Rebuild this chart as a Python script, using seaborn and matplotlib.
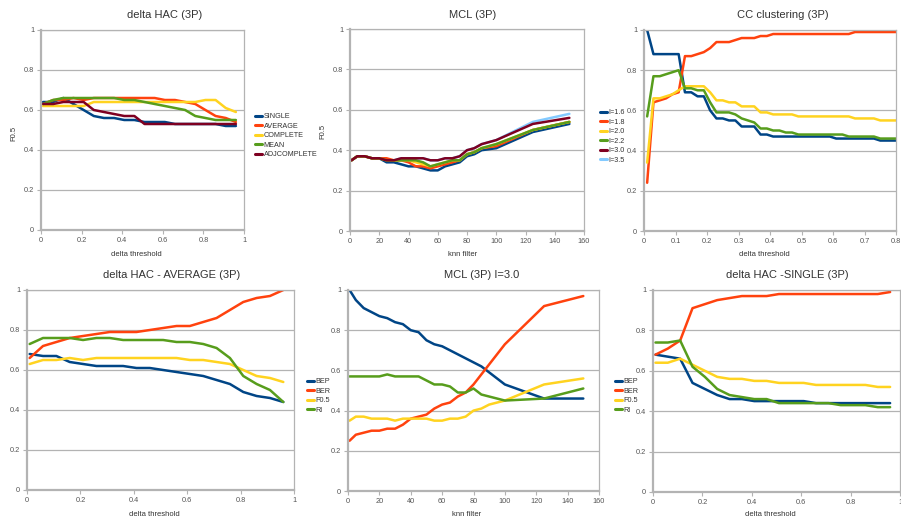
import matplotlib
matplotlib.use("Agg")
import matplotlib.pyplot as plt
import seaborn as sns
from matplotlib.ticker import FuncFormatter

# ---- data ----
hac_x = [0.01, 0.06, 0.11, 0.16, 0.21, 0.26, 0.31, 0.36, 0.41, 0.46,
         0.51, 0.56, 0.61, 0.66, 0.71, 0.76, 0.81, 0.86, 0.91, 0.96]

hac_single = [0.64, 0.64, 0.66, 0.63, 0.60, 0.57, 0.56, 0.56, 0.55, 0.55,
              0.54, 0.54, 0.54, 0.53, 0.53, 0.53, 0.53, 0.53, 0.52, 0.52]
hac_average = [0.63, 0.65, 0.65, 0.66, 0.65, 0.66, 0.66, 0.66, 0.66, 0.66,
               0.66, 0.66, 0.65, 0.65, 0.64, 0.63, 0.60, 0.57, 0.56, 0.54]
hac_complete = [0.62, 0.62, 0.62, 0.62, 0.62, 0.64, 0.64, 0.64, 0.64, 0.64,
                0.64, 0.64, 0.64, 0.64, 0.64, 0.64, 0.65, 0.65, 0.61, 0.59]
hac_mean = [0.63, 0.65, 0.66, 0.66, 0.66, 0.66, 0.66, 0.66, 0.65, 0.65,
            0.64, 0.63, 0.62, 0.61, 0.60, 0.57, 0.56, 0.55, 0.55, 0.55]
hac_adjcomplete = [0.63, 0.63, 0.64, 0.64, 0.64, 0.60, 0.59, 0.58, 0.57, 0.57,
                   0.53, 0.53, 0.53, 0.53, 0.53, 0.53, 0.53, 0.53, 0.53, 0.53]

knn = [1, 5, 10, 15, 20, 25, 30, 35, 40, 45, 50, 55, 60, 65, 70, 75, 80,
       85, 90, 95, 100, 125, 150]

mcl_16 = [0.35, 0.37, 0.37, 0.36, 0.36, 0.34, 0.34, 0.33, 0.32, 0.32, 0.31, 0.30,
          0.30, 0.32, 0.33, 0.34, 0.37, 0.38, 0.40, 0.405, 0.41, 0.49, 0.53]
mcl_18 = [0.35, 0.37, 0.37, 0.36, 0.36, 0.36, 0.35, 0.35, 0.34, 0.32, 0.32, 0.31,
          0.32, 0.33, 0.34, 0.35, 0.38, 0.39, 0.41, 0.415, 0.42, 0.50, 0.54]
mcl_20 = [0.35, 0.37, 0.37, 0.36, 0.36, 0.35, 0.35, 0.35, 0.35, 0.34, 0.33, 0.32,
          0.33, 0.34, 0.35, 0.35, 0.38, 0.39, 0.41, 0.42, 0.43, 0.50, 0.54]
mcl_22 = [0.35, 0.37, 0.37, 0.36, 0.36, 0.35, 0.35, 0.35, 0.35, 0.35, 0.34, 0.32,
          0.33, 0.34, 0.35, 0.35, 0.38, 0.39, 0.41, 0.42, 0.43, 0.50, 0.54]
mcl_30 = [0.35, 0.37, 0.37, 0.36, 0.36, 0.35, 0.35, 0.36, 0.36, 0.36, 0.36, 0.35,
          0.35, 0.36, 0.36, 0.37, 0.40, 0.41, 0.43, 0.44, 0.45, 0.53, 0.56]
mcl_35 = [0.35, 0.37, 0.37, 0.36, 0.36, 0.35, 0.35, 0.36, 0.36, 0.36, 0.36, 0.35,
          0.35, 0.36, 0.36, 0.37, 0.40, 0.41, 0.43, 0.44, 0.45, 0.54, 0.58]

cc_x = [0.01, 0.03, 0.05, 0.07, 0.09, 0.11, 0.13, 0.15, 0.17, 0.19, 0.21,
        0.23, 0.25, 0.27, 0.29, 0.31, 0.33, 0.35, 0.37, 0.39, 0.41, 0.43,
        0.45, 0.47, 0.49, 0.51, 0.53, 0.55, 0.57, 0.59, 0.61, 0.63, 0.65,
        0.67, 0.69, 0.71, 0.73, 0.75, 0.77, 0.79, 0.81]
cc_16 = [1.0, 0.88, 0.88, 0.88, 0.88, 0.88, 0.69, 0.69, 0.67, 0.67, 0.60,
         0.56, 0.56, 0.55, 0.55, 0.52, 0.52, 0.52, 0.48, 0.48, 0.47, 0.47,
         0.47, 0.47, 0.47, 0.47, 0.47, 0.47, 0.47, 0.47, 0.46, 0.46, 0.46,
         0.46, 0.46, 0.46, 0.46, 0.45, 0.45, 0.45, 0.45]
cc_18 = [0.24, 0.64, 0.65, 0.66, 0.68, 0.69, 0.87, 0.87, 0.88, 0.89, 0.91,
         0.94, 0.94, 0.94, 0.95, 0.96, 0.96, 0.96, 0.97, 0.97, 0.98, 0.98,
         0.98, 0.98, 0.98, 0.98, 0.98, 0.98, 0.98, 0.98, 0.98, 0.98, 0.98,
         0.99, 0.99, 0.99, 0.99, 0.99, 0.99, 0.99, 0.99]
cc_20 = [0.34, 0.66, 0.66, 0.67, 0.68, 0.70, 0.72, 0.72, 0.72, 0.72, 0.69,
         0.65, 0.65, 0.64, 0.64, 0.62, 0.62, 0.62, 0.59, 0.59, 0.58, 0.58,
         0.58, 0.58, 0.57, 0.57, 0.57, 0.57, 0.57, 0.57, 0.57, 0.57, 0.57,
         0.56, 0.56, 0.56, 0.56, 0.55, 0.55, 0.55, 0.55]
cc_22 = [0.57, 0.77, 0.77, 0.78, 0.79, 0.80, 0.71, 0.71, 0.70, 0.70, 0.64,
         0.59, 0.59, 0.59, 0.58, 0.56, 0.55, 0.54, 0.51, 0.51, 0.50, 0.50,
         0.49, 0.49, 0.48, 0.48, 0.48, 0.48, 0.48, 0.48, 0.48, 0.48, 0.47,
         0.47, 0.47, 0.47, 0.47, 0.46, 0.46, 0.46, 0.46]

avg_bep = [0.68, 0.67, 0.67, 0.64, 0.63, 0.62, 0.62, 0.62, 0.61, 0.61,
           0.60, 0.59, 0.58, 0.57, 0.55, 0.53, 0.49, 0.47, 0.46, 0.44]
avg_ber = [0.66, 0.72, 0.74, 0.76, 0.77, 0.78, 0.79, 0.79, 0.79, 0.80,
           0.81, 0.82, 0.82, 0.84, 0.86, 0.90, 0.94, 0.96, 0.97, 1.00]
avg_f05 = [0.63, 0.65, 0.65, 0.66, 0.65, 0.66, 0.66, 0.66, 0.66, 0.66,
           0.66, 0.66, 0.65, 0.65, 0.64, 0.63, 0.60, 0.57, 0.56, 0.54]
avg_ri = [0.73, 0.76, 0.76, 0.76, 0.75, 0.76, 0.76, 0.75, 0.75, 0.75,
          0.75, 0.74, 0.74, 0.73, 0.71, 0.66, 0.57, 0.53, 0.50, 0.44]

mcl3_bep = [1.0, 0.95, 0.91, 0.89, 0.87, 0.86, 0.84, 0.83, 0.80, 0.79, 0.75, 0.73,
            0.72, 0.70, 0.68, 0.66, 0.64, 0.62, 0.59, 0.56, 0.53, 0.46, 0.46]
mcl3_ber = [0.25, 0.28, 0.29, 0.30, 0.30, 0.31, 0.31, 0.33, 0.36, 0.37, 0.38, 0.41,
            0.43, 0.44, 0.47, 0.49, 0.53, 0.58, 0.63, 0.68, 0.73, 0.92, 0.97]
mcl3_f05 = [0.35, 0.37, 0.37, 0.36, 0.36, 0.36, 0.35, 0.36, 0.36, 0.36, 0.36, 0.35,
            0.35, 0.36, 0.36, 0.37, 0.40, 0.41, 0.43, 0.44, 0.45, 0.53, 0.56]
mcl3_ri = [0.57, 0.57, 0.57, 0.57, 0.57, 0.58, 0.57, 0.57, 0.57, 0.57, 0.55, 0.53,
           0.53, 0.52, 0.49, 0.49, 0.51, 0.48, 0.47, 0.46, 0.45, 0.46, 0.51]

sgl_bep = [0.68, 0.67, 0.66, 0.54, 0.51, 0.48, 0.46, 0.46, 0.45, 0.45,
           0.45, 0.45, 0.45, 0.44, 0.44, 0.44, 0.44, 0.44, 0.44, 0.44]
sgl_ber = [0.68, 0.71, 0.75, 0.91, 0.93, 0.95, 0.96, 0.97, 0.97, 0.97,
           0.98, 0.98, 0.98, 0.98, 0.98, 0.98, 0.98, 0.98, 0.98, 0.99]
sgl_f05 = [0.64, 0.64, 0.66, 0.63, 0.60, 0.57, 0.56, 0.56, 0.55, 0.55,
           0.54, 0.54, 0.54, 0.53, 0.53, 0.53, 0.53, 0.53, 0.52, 0.52]
sgl_ri = [0.74, 0.74, 0.75, 0.62, 0.57, 0.51, 0.48, 0.47, 0.46, 0.46,
          0.44, 0.44, 0.44, 0.44, 0.44, 0.43, 0.43, 0.43, 0.42, 0.42]

colors = ['#004586', '#ff420e', '#ffd320', '#579d1c', '#7e0021', '#83caff']
metric_labels = ['BEP', 'BER', 'F0.5', 'RI']

# ---- style ----
sns.set_theme(style="white")
plt.rcParams['font.family'] = ['Liberation Sans', 'DejaVu Sans']

W, H = 901, 518
fig = plt.figure(figsize=(W / 100, H / 100), dpi=100)
GRAY = '#b3b3b3'


def make_axes(l, r, t, b, xmax, xstep):
    ax = fig.add_axes([l / W, 1 - b / H, (r - l) / W, (b - t) / H])
    ax.set_xlim(0, xmax)
    ax.set_ylim(0, 1)
    n = int(round(xmax / xstep))
    ax.set_xticks([i * xstep for i in range(n + 1)])
    ax.set_yticks([0, 0.2, 0.4, 0.6, 0.8, 1.0])
    fmt = FuncFormatter(lambda v, p: f"{v:g}")
    ax.xaxis.set_major_formatter(fmt)
    ax.yaxis.set_major_formatter(fmt)
    ax.yaxis.grid(True, color=GRAY, lw=0.9)
    ax.set_axisbelow(True)
    for s in ax.spines.values():
        s.set_color(GRAY)
        s.set_linewidth(0.9)
    ax.spines['left'].set_linewidth(1.6)
    ax.spines['bottom'].set_linewidth(1.6)
    ax.tick_params(axis='both', length=3, width=0.8, color=GRAY,
                   labelsize=5.3, labelcolor='#555555', pad=2,
                   left=True, bottom=True)
    ax.set_xlabel('')
    ax.set_ylabel('')
    return ax


def draw(ax, x, series, labels, cols):
    for y, lab, c in zip(series, labels, cols):
        sns.lineplot(x=x, y=y, ax=ax, color=c, lw=1.8, label=lab, legend=False)


def legend(ax, x, y, order=None):
    h, l = ax.get_legend_handles_labels()
    if order is not None:
        h = [h[i] for i in order]
        l = [l[i] for i in order]
    leg = fig.legend(h, l, loc='upper left', bbox_to_anchor=(x / W, 1 - y / H),
                     frameon=False, fontsize=5.2, handlelength=1.0,
                     handletextpad=0.2, labelspacing=0.35, borderpad=0,
                     borderaxespad=0)
    for t in leg.get_texts():
        t.set_color('#333333')
    for ln in leg.get_lines():
        ln.set_linewidth(2.2)


def text(x, y, s, size=5.5, **kw):
    fig.text(x / W, 1 - y / H, s, ha='center', va='center', fontsize=size,
             color='#333333', **kw)


# panel 1: delta HAC (3P)
ax1 = make_axes(41, 244, 30, 230, 1.0, 0.2)
draw(ax1, hac_x, [hac_single, hac_average, hac_complete, hac_mean, hac_adjcomplete],
     ['SINGLE', 'AVERAGE', 'COMPLETE', 'MEAN', 'ADJCOMPLETE'], colors[:5])
legend(ax1, 255, 113)
text(165, 15, 'delta HAC (3P)', size=8)
text(136, 254, 'delta threshold')
text(14, 133, 'F0.5', rotation=90)

# panel 2: MCL (3P)
ax2 = make_axes(350, 584, 29, 231, 160, 20)
mcl_series = [mcl_16, mcl_18, mcl_20, mcl_22, mcl_30, mcl_35]
mcl_labels = ['I=1.6', 'I=1.8', 'I=2.0', 'I=2.2', 'I=3.0', 'I=3.5']
draw(ax2, knn, [mcl_35], [mcl_labels[5]], [colors[5]])
draw(ax2, knn, mcl_series[:5], mcl_labels[:5], colors[:5])
legend(ax2, 600, 109, order=[1, 2, 3, 4, 5, 0])
text(473, 15, 'MCL (3P)', size=8)
text(463, 254, 'knn filter')
text(323, 131, 'F0.5', rotation=90)

# panel 3: CC clustering (3P)
ax3 = make_axes(644, 896, 30, 231, 0.8, 0.1)
draw(ax3, cc_x, [cc_16, cc_18, cc_20, cc_22],
     ['I=1.6', 'I=1.8', 'I=2.0', 'I=2.2'], colors[:4])
text(783, 15, 'CC clustering (3P)', size=8)
text(764, 254, 'delta threshold')

# panel 4: delta HAC - AVERAGE (3P)
ax4 = make_axes(27, 294, 290, 490, 1.0, 0.2)
draw(ax4, hac_x, [avg_bep, avg_ber, avg_f05, avg_ri], metric_labels, colors[:4])
legend(ax4, 307, 378)
text(172, 275, 'delta HAC - AVERAGE (3P)', size=8)
text(154, 514, 'delta threshold')

# panel 5: MCL (3P) I=3.0
ax5 = make_axes(348, 599, 290, 491, 160, 20)
draw(ax5, knn, [mcl3_bep, mcl3_ber, mcl3_f05, mcl3_ri], metric_labels, colors[:4])
legend(ax5, 615, 378)
text(482, 275, 'MCL (3P) I=3.0', size=8)
text(467, 515, 'knn filter')

# panel 6: delta HAC -SINGLE (3P)
ax6 = make_axes(653, 900, 290, 492, 1.0, 0.2)
draw(ax6, hac_x, [sgl_bep, sgl_ber, sgl_f05, sgl_ri], metric_labels, colors[:4])
text(787, 275, 'delta HAC -SINGLE (3P)', size=8)
text(770, 514, 'delta threshold')

fig.savefig('out.png', dpi=100, facecolor='white')
